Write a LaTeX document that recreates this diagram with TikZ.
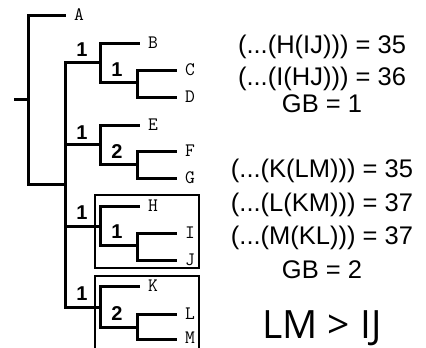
\documentclass[tikz,border=0pt]{standalone}
\usepackage{fontspec}
\setmainfont{Liberation Sans}
\newfontfamily\bigfont{Open Sans}
\begin{document}
\begin{tikzpicture}[x=1pt,y=-1pt,
  branch/.style={line width=3pt,line cap=rect},
  leaflab/.style={font=\ttfamily\fontsize{19}{19}\selectfont,anchor=west,inner sep=0pt},
  support/.style={font=\bfseries\fontsize{20}{20}\selectfont,inner sep=0pt},
  eqn/.style={font=\fontsize{25.5}{25.5}\selectfont,anchor=base,inner sep=0pt},
  boxline/.style={draw,line width=1.4pt}]
\useasboundingbox (0,0) rectangle (426,348);
% boxes
\draw[boxline] (95,195) rectangle (199,268);
\begin{scope}
\clip (0,0) rectangle (426,348);
\draw[boxline] (95,360) -- (95,276) -- (199,276) -- (199,360);
\end{scope}
% internal coordinates
\coordinate (stub) at (15,99);
\coordinate (root) at (28,99);
\coordinate (n2) at (65,184);
\coordinate (nB) at (100,62);
\coordinate (nE) at (100,144);
\coordinate (nH) at (100,226);
\coordinate (nK) at (100,307);
\coordinate (nCD) at (137,82);
\coordinate (nFG) at (137,164);
\coordinate (nIJ) at (137,245);
\coordinate (nLM) at (137,327);
% tips
\coordinate (tA) at (64,15);
\coordinate (tB) at (138,43);
\coordinate (tC) at (175,70);
\coordinate (tD) at (175,97);
\coordinate (tE) at (138,125);
\coordinate (tF) at (175,151);
\coordinate (tG) at (175,178);
\coordinate (tH) at (138,206);
\coordinate (tI) at (175,233);
\coordinate (tJ) at (175,260);
\coordinate (tK) at (138,286);
\coordinate (tL) at (175,314);
\coordinate (tM) at (175,339);
% leaf labels
\foreach \n in {A,B,C,D,E,F,G,H,I,J,K,L}
  \node[leaflab] (\n) at ([xshift=10pt]t\n) {\n};
\node[leaflab] (M) at ([xshift=10pt,yshift=1pt]tM) {M};
% branches
\draw[branch] (stub) -- (root);
\draw[branch] (tA) -| (root) |- (n2);
\draw[branch] (nB) -| (n2) |- (nK);
\draw[branch] (n2) |- (nE);
\draw[branch] (n2) |- (nH);
\draw[branch] (tB) -| (nB) |- (nCD);
\draw[branch] (tC) -| (nCD) |- (tD);
\draw[branch] (tE) -| (nE) |- (nFG);
\draw[branch] (tF) -| (nFG) |- (tG);
\draw[branch] (tH) -| (nH) |- (nIJ);
\draw[branch] (tI) -| (nIJ) |- (tJ);
\draw[branch] (tK) -| (nK) |- (nLM);
\draw[branch] (tL) -| (nLM) |- (tM);
% support values
\node[support] (s1) at (82,50) {1};
\node[support] (s2) at (117,70) {1};
\node[support] (s3) at (82,133) {1};
\node[support] (s4) at (117,152) {2};
\node[support] (s5) at (82,213) {1};
\node[support] (s6) at (117,232) {1};
\node[support] (s7) at (82,294) {1};
\node[support] (s8) at (117,314) {2};
% equations
\node[eqn] (e1) at (322,53) {(...(H(IJ))) = 35};
\node[eqn] (e2) at (322,85) {(...(I(HJ))) = 36};
\node[eqn] (e3) at (322,112) {GB = 1};
\node[eqn] (e4) at (322,177) {(...(K(LM))) = 35};
\node[eqn] (e5) at (322,211) {(...(L(KM))) = 37};
\node[eqn] (e6) at (322,244) {(...(M(KL))) = 37};
\node[eqn] (e7) at (322,278) {GB = 2};
\node[font=\bigfont\fontsize{39}{39}\selectfont,anchor=base,inner sep=0pt] (res) at (322,338) {LM > IJ};
\end{tikzpicture}
\end{document}
